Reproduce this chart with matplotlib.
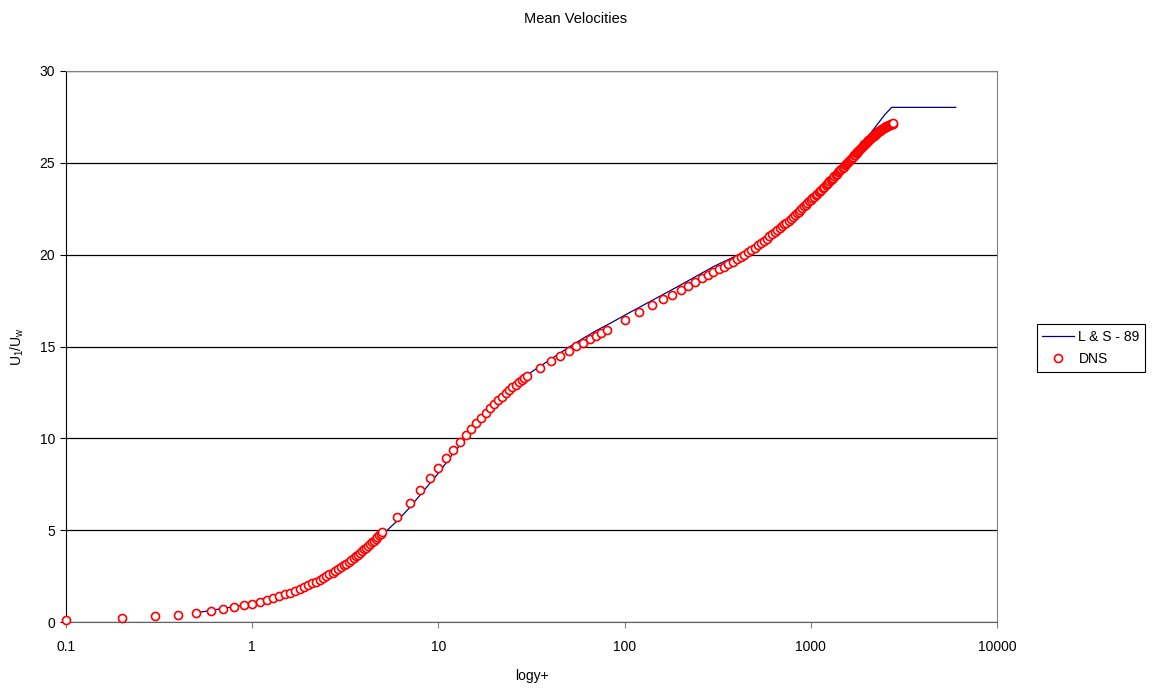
import matplotlib
matplotlib.use('Agg')
import matplotlib.pyplot as plt
from matplotlib.ticker import FixedLocator, NullLocator

plt.rcParams['font.family'] = ['Liberation Sans', 'DejaVu Sans']
plt.rcParams['mathtext.fontset'] = 'custom'
plt.rcParams['mathtext.rm'] = 'Liberation Sans'

# DNS profile, wall units
sub_y = [0.1, 0.2, 0.3, 0.4, 0.5, 0.6, 0.7, 0.8, 0.9,
         1.0, 1.1, 1.2, 1.3, 1.4, 1.5, 1.6, 1.7, 1.8, 1.9,
         2.0, 2.1, 2.2, 2.3, 2.4, 2.5, 2.6, 2.7, 2.8, 2.9,
         3.0, 3.1, 3.2, 3.3, 3.4, 3.5, 3.6, 3.7, 3.8, 3.9,
         4.0, 4.1, 4.2, 4.3, 4.4, 4.5, 4.6, 4.7, 4.8, 4.9, 5.0]
sub_u = [0.10, 0.20, 0.30, 0.40, 0.50, 0.60, 0.70, 0.80, 0.90,
         1.00, 1.10, 1.20, 1.30, 1.40, 1.50, 1.60, 1.70, 1.80, 1.90,
         2.00, 2.10, 2.20, 2.30, 2.39, 2.49, 2.59, 2.69, 2.79, 2.89,
         2.99, 3.09, 3.18, 3.28, 3.38, 3.48, 3.57, 3.67, 3.77, 3.86,
         3.96, 4.05, 4.15, 4.25, 4.34, 4.43, 4.53, 4.62, 4.72, 4.81, 4.90]

buf_y = [6, 7, 8, 9, 10, 11, 12, 13, 14, 15, 16, 17, 18, 19, 20,
         21, 22, 23, 24, 25, 26, 27, 28, 29, 30,
         35, 40, 45, 50, 55, 60, 65, 70, 75, 80]
buf_u = [5.73, 6.49, 7.19, 7.84, 8.38, 8.92, 9.38, 9.81, 10.18, 10.53,
         10.84, 11.13, 11.38, 11.63, 11.86, 12.07, 12.27, 12.45, 12.62, 12.78,
         12.92, 13.05, 13.17, 13.28, 13.39,
         13.85, 14.23, 14.50, 14.77, 15.02, 15.21, 15.41, 15.59, 15.75, 15.90]

out_y = [100, 120, 140, 160, 180, 200, 220, 240, 260, 280,
         300, 320, 340, 360, 380, 400, 420, 440, 460, 480,
         500, 520, 540, 560, 580, 600, 620, 640, 660, 680,
         700, 720, 740, 760, 780, 800, 820, 840, 860, 880,
         900, 920, 940, 960, 980, 1000, 1020, 1040, 1060, 1080,
         1100, 1120, 1140, 1160, 1180, 1200, 1220, 1240, 1260, 1280,
         1300, 1320, 1340, 1360, 1380, 1400, 1420, 1440, 1460, 1480,
         1500, 1520, 1540, 1560, 1580, 1600, 1620, 1640, 1660, 1680,
         1700, 1720, 1740, 1760, 1780, 1800, 1820, 1840, 1860, 1880,
         1900, 1920, 1940, 1960, 1980, 2000, 2020, 2040, 2060, 2080,
         2100, 2120, 2140, 2160, 2180, 2200, 2220, 2240, 2260, 2280,
         2300, 2320, 2340, 2360, 2380, 2400, 2420, 2440, 2460, 2480,
         2500, 2520, 2540, 2560, 2580, 2600, 2620, 2640, 2660, 2680,
         2700, 2720, 2740, 2760, 2780]
out_u = [16.44, 16.88, 17.24, 17.56, 17.83, 18.09, 18.31, 18.53, 18.71, 18.88,
         19.05, 19.20, 19.34, 19.47, 19.61, 19.74, 19.87, 20.00, 20.12, 20.25,
         20.39, 20.51, 20.63, 20.75, 20.87, 20.99, 21.10, 21.21, 21.33, 21.44,
         21.55, 21.65, 21.75, 21.86, 21.96, 22.06, 22.16, 22.25, 22.35, 22.44,
         22.54, 22.63, 22.72, 22.81, 22.90, 22.99, 23.07, 23.15, 23.23, 23.31,
         23.39, 23.47, 23.54, 23.62, 23.69, 23.77, 23.84, 23.91, 23.99, 24.06,
         24.13, 24.20, 24.27, 24.34, 24.41, 24.48, 24.54, 24.61, 24.67, 24.74,
         24.80, 24.86, 24.92, 24.99, 25.05, 25.11, 25.17, 25.23, 25.28, 25.34,
         25.40, 25.45, 25.51, 25.56, 25.61, 25.66, 25.71, 25.76, 25.81, 25.86,
         25.91, 25.96, 26.00, 26.05, 26.09, 26.14, 26.18, 26.22, 26.26, 26.30,
         26.34, 26.38, 26.41, 26.45, 26.48, 26.52, 26.55, 26.59, 26.62, 26.66,
         26.69, 26.72, 26.74, 26.77, 26.79, 26.82, 26.84, 26.87, 26.89, 26.92,
         26.94, 26.96, 26.98, 26.99, 27.01, 27.03, 27.05, 27.06, 27.08, 27.09,
         27.11, 27.12, 27.13, 27.14, 27.15]

# L & S - 89 model curve
ls_y = [0.5, 1, 2, 3, 4, 5, 6, 7, 8, 10, 12, 15, 18, 22, 27, 32, 40, 50, 60,
        70, 85, 100, 140, 200, 300, 400, 500, 700, 1000, 1500, 2000, 2260,
        2500, 2720, 6000]
ls_u = [0.5, 1.0, 2.0, 2.98, 3.92, 4.75, 5.5, 6.22, 6.93, 8.1, 9.18, 10.33,
        11.16, 12.1, 13.1, 13.65, 14.3, 14.95, 15.45, 15.85, 16.3, 16.7, 17.5,
        18.35, 19.35, 19.95, 20.45, 21.5, 22.95, 24.85, 26.35, 27.05, 27.63,
        28.02, 28.02]

x_ticks = [0.1, 1, 10, 100, 1000, 10000]
x_labels = ['0.1', '1', '10', '100', '1000', '10000']
y_ticks = [0, 5, 10, 15, 20, 25, 30]

dns_y = sub_y + buf_y + out_y
dns_u = sub_u + buf_u + out_u

fig = plt.figure(figsize=(11.52, 6.88), dpi=100)
fig.subplots_adjust(left=66 / 1152, right=997 / 1152, bottom=66 / 688, top=617 / 688)
ax = fig.add_subplot(111)

ax.plot(ls_y, ls_u, color='#000080', lw=0.9, zorder=2, label='L & S - 89')
ax.plot(dns_y, dns_u, ls='none', marker='o', ms=5.8, mfc='white', mec='red',
        mew=1.2, clip_on=False, zorder=3, label='DNS')

ax.set_xscale('log')
ax.set_xlim(0.1, 10000)
ax.set_ylim(0, 30)
ax.xaxis.set_major_locator(FixedLocator(x_ticks))
ax.xaxis.set_minor_locator(NullLocator())
ax.set_xticklabels(x_labels)
ax.set_yticks(y_ticks)

ax.yaxis.grid(True, color='black', lw=0.9)
for side in ['top', 'right']:
    ax.spines[side].set_color('#808080')
ax.spines['bottom'].set_color('#606060')
ax.spines['left'].set_color('black')
ax.tick_params(axis='x', direction='out', length=4, color='#808080', labelsize=10, pad=9)
ax.tick_params(axis='y', direction='out', length=4, color='black', labelsize=10, pad=4)

ax.set_xlabel('logy+', fontsize=10)
ax.xaxis.set_label_coords(0.5, -0.085)
ax.set_ylabel(r'U$_\mathrm{1}$/U$_\mathrm{w}$', fontsize=10)
ax.yaxis.set_label_coords(-0.043, 0.5)

fig.text(0.5, 1 - 19 / 688, 'Mean Velocities', ha='center', va='center', fontsize=10.5)

leg = ax.legend(loc='center', bbox_to_anchor=(1091 / 1152, 1 - 348 / 688),
                bbox_transform=fig.transFigure, fancybox=False, edgecolor='black',
                framealpha=1, fontsize=10, handlelength=2.3, numpoints=1,
                labelspacing=0.6, borderpad=0.4, handletextpad=0.3, borderaxespad=0)
leg.get_frame().set_linewidth(0.8)

fig.savefig('out.png', dpi=100)
